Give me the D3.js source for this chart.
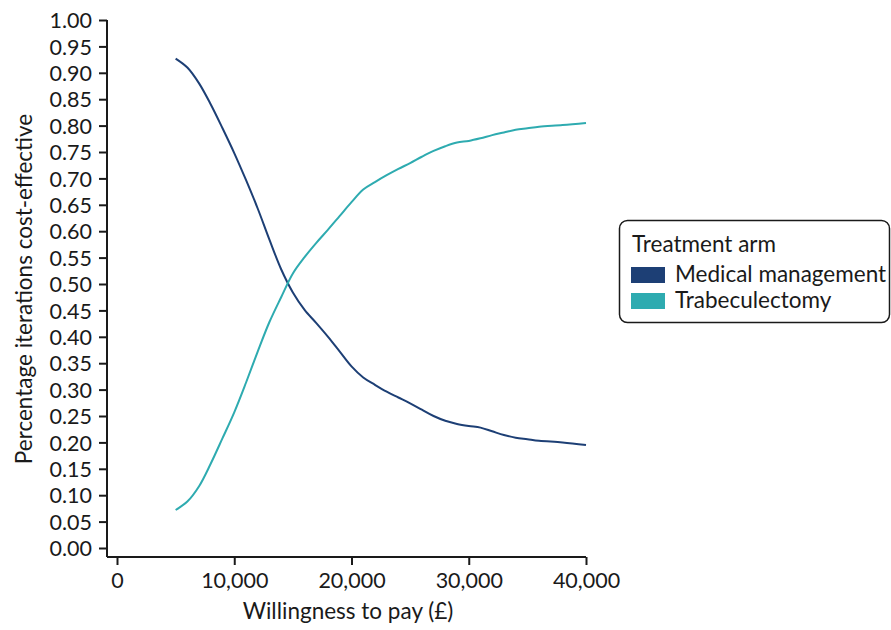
<!DOCTYPE html>
<html><head><meta charset="utf-8">
<script src="https://cdn.jsdelivr.net/npm/d3@7"></script>
<style>body{margin:0;background:#fff;font-family:Lato,"Noto Sans",sans-serif;}</style>
</head><body><svg id="c" width="891" height="630"></svg>
<script>
const wtp = [5000,6000,7000,8000,9000,10000,11000,12000,13000,14000,15000,16000,17000,18000,19000,20000,21000,22000,23000,24000,25000,26000,27000,28000,29000,30000,31000,32000,33000,34000,35000,36000,38000,40000];
const medical = [0.927,0.910,0.880,0.840,0.795,0.748,0.697,0.643,0.584,0.528,0.484,0.451,0.426,0.400,0.372,0.344,0.323,0.309,0.296,0.285,0.274,0.262,0.250,0.241,0.235,0.231,0.228,0.221,0.214,0.209,0.206,0.203,0.200,0.195];
const trab = [0.072,0.088,0.117,0.160,0.208,0.257,0.313,0.372,0.428,0.475,0.520,0.551,0.578,0.603,0.629,0.655,0.679,0.693,0.706,0.718,0.729,0.741,0.752,0.761,0.768,0.771,0.776,0.782,0.787,0.792,0.795,0.798,0.801,0.805];
const seriesNames = ["Medical management","Trabeculectomy"];
const colors = ["#1d3f75","#2eabb0"];
const xTicks = [0,10000,20000,30000,40000];
const yTicks = d3.range(0,1.0001,0.05);

const svg = d3.select("#c");
const x = d3.scaleLinear().domain([0,40000]).range([117,586]);
const y = d3.scaleLinear().domain([0,1]).range([548,20]);
const ink = "#1a1a1a";

const xAxis = svg.append("g").attr("transform","translate(0,557)")
  .call(d3.axisBottom(x).tickValues(xTicks).tickSize(8).tickSizeOuter(0).tickFormat(d3.format(",")));
xAxis.select(".domain").attr("d","M107,0H586");
const yAxis = svg.append("g").attr("transform","translate(107,0)")
  .call(d3.axisLeft(y).tickValues(yTicks).tickSize(8).tickSizeOuter(0).tickFormat(d3.format(".2f")));
yAxis.select(".domain").attr("d","M0,20V557");
[xAxis,yAxis].forEach(g=>{
  g.selectAll(".domain").attr("stroke",ink).attr("stroke-width",2);
  g.selectAll(".tick line").attr("stroke",ink).attr("stroke-width",2);
  g.selectAll(".tick text").attr("fill",ink).attr("font-family","Lato").attr("font-size",21.5);
});
xAxis.selectAll(".tick text").attr("y",31).attr("dy",0);
yAxis.selectAll(".tick text").attr("x",-15).attr("dy","0.36em");

svg.append("text").attr("x",348).attr("y",619).attr("text-anchor","middle")
  .attr("font-family","Lato").attr("font-size",22.5).attr("fill",ink).text("Willingness to pay (£)");
svg.append("text").attr("transform","translate(32,289) rotate(-90)").attr("text-anchor","middle")
  .attr("font-family","Lato").attr("font-size",22.5).attr("fill",ink).text("Percentage iterations cost-effective");

const line = d3.line().x(d=>x(d[0])).y(d=>y(d[1])).curve(d3.curveCatmullRom.alpha(0.5));
[medical,trab].forEach((s,i)=>{
  svg.append("path").datum(wtp.map((w,j)=>[w,s[j]])).attr("d",line)
    .attr("fill","none").attr("stroke",colors[i]).attr("stroke-width",2);
});

const lg = svg.append("g");
lg.append("rect").attr("x",619.5).attr("y",220.5).attr("width",270).attr("height",102).attr("rx",8)
  .attr("fill","#fff").attr("stroke",ink).attr("stroke-width",1.5);
lg.append("text").attr("x",632).attr("y",252).attr("font-family","Lato").attr("font-size",22.5).attr("fill",ink).text("Treatment arm");
seriesNames.forEach((n,i)=>{
  lg.append("rect").attr("x",631).attr("y",267+i*26).attr("width",34).attr("height",16).attr("fill",colors[i]);
  lg.append("text").attr("x",675).attr("y",282+i*26).attr("font-family","Lato").attr("font-size",22.5).attr("fill",ink).text(n);
});
</script></body></html>
